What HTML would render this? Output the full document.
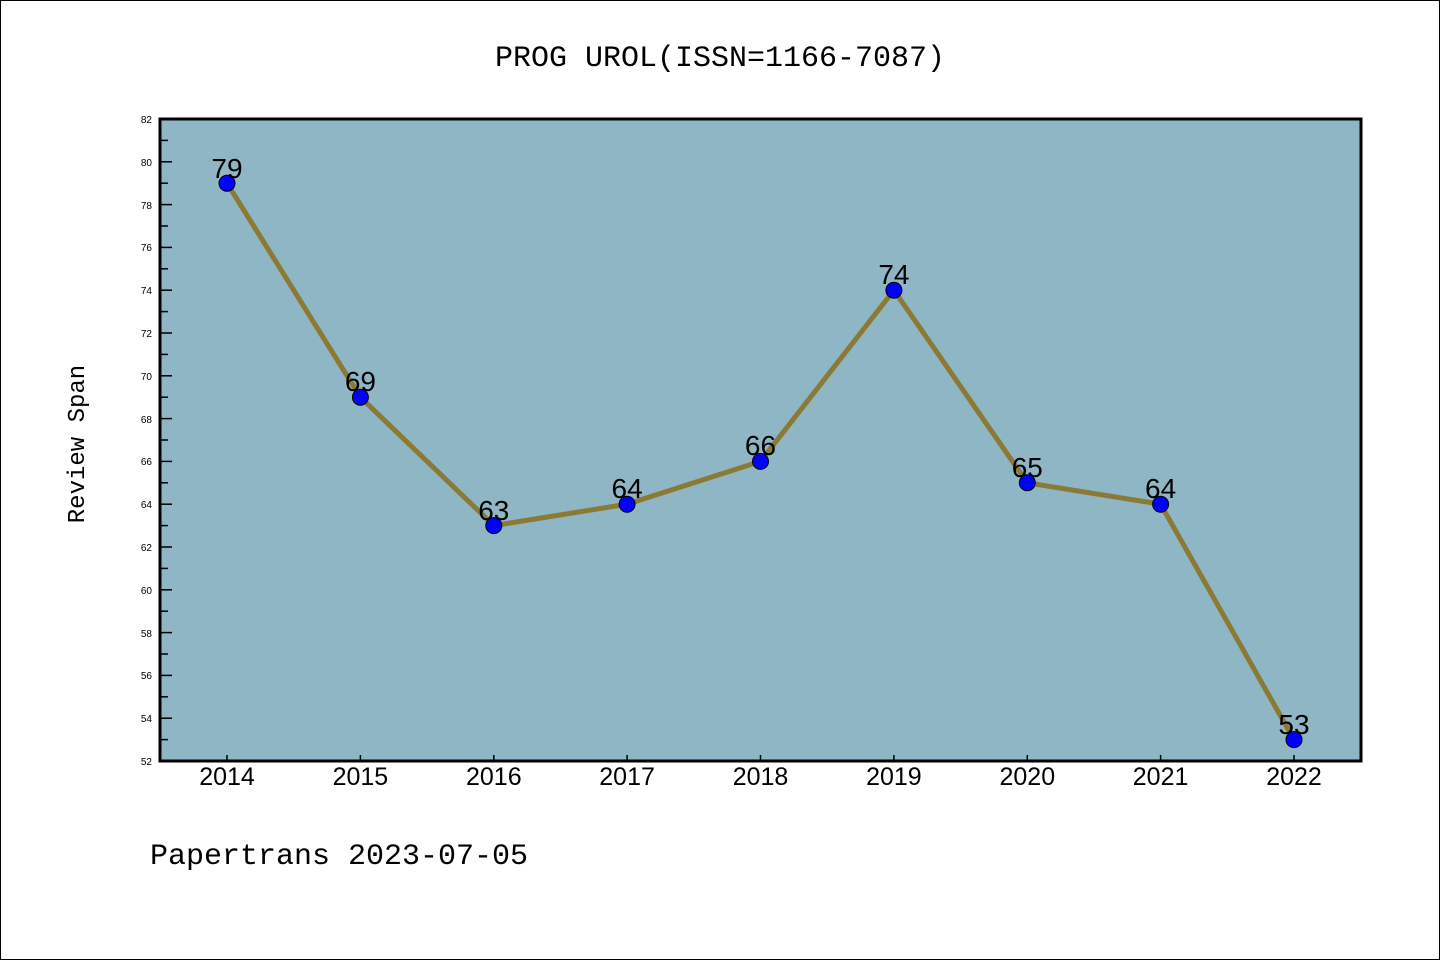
<!DOCTYPE html>
<html><head><style>body{margin:0;background:#fff}svg{display:block}</style></head><body>
<svg width="1440" height="960" xmlns="http://www.w3.org/2000/svg" font-family="'Liberation Sans','DejaVu Sans',sans-serif">
<rect x="0.5" y="0.5" width="1439" height="959" fill="#fff" stroke="#000"/>
<text x="720" y="66" font-size="30" text-anchor="middle" font-family="'Liberation Mono','DejaVu Sans Mono',monospace">PROG UROL(ISSN=1166-7087)</text>
<rect x="160" y="119" width="1201" height="642" fill="#8fb6c5"/>
<g stroke="#000" stroke-width="1.5">
<line x1="160" y1="119" x2="172" y2="119"/><line x1="160" y1="140.4" x2="168" y2="140.4"/>
<line x1="160" y1="161.8" x2="172" y2="161.8"/><line x1="160" y1="183.2" x2="168" y2="183.2"/>
<line x1="160" y1="204.6" x2="172" y2="204.6"/><line x1="160" y1="226" x2="168" y2="226"/>
<line x1="160" y1="247.4" x2="172" y2="247.4"/><line x1="160" y1="268.8" x2="168" y2="268.8"/>
<line x1="160" y1="290.2" x2="172" y2="290.2"/><line x1="160" y1="311.6" x2="168" y2="311.6"/>
<line x1="160" y1="333" x2="172" y2="333"/><line x1="160" y1="354.4" x2="168" y2="354.4"/>
<line x1="160" y1="375.8" x2="172" y2="375.8"/><line x1="160" y1="397.2" x2="168" y2="397.2"/>
<line x1="160" y1="418.6" x2="172" y2="418.6"/><line x1="160" y1="440" x2="168" y2="440"/>
<line x1="160" y1="461.4" x2="172" y2="461.4"/><line x1="160" y1="482.8" x2="168" y2="482.8"/>
<line x1="160" y1="504.2" x2="172" y2="504.2"/><line x1="160" y1="525.6" x2="168" y2="525.6"/>
<line x1="160" y1="547" x2="172" y2="547"/><line x1="160" y1="568.4" x2="168" y2="568.4"/>
<line x1="160" y1="589.8" x2="172" y2="589.8"/><line x1="160" y1="611.2" x2="168" y2="611.2"/>
<line x1="160" y1="632.6" x2="172" y2="632.6"/><line x1="160" y1="654" x2="168" y2="654"/>
<line x1="160" y1="675.4" x2="172" y2="675.4"/><line x1="160" y1="696.8" x2="168" y2="696.8"/>
<line x1="160" y1="718.2" x2="172" y2="718.2"/><line x1="160" y1="739.6" x2="168" y2="739.6"/>
<line x1="227" y1="761" x2="227" y2="755"/><line x1="360.4" y1="761" x2="360.4" y2="755"/>
<line x1="493.8" y1="761" x2="493.8" y2="755"/><line x1="627.1" y1="761" x2="627.1" y2="755"/>
<line x1="760.5" y1="761" x2="760.5" y2="755"/><line x1="893.9" y1="761" x2="893.9" y2="755"/>
<line x1="1027.3" y1="761" x2="1027.3" y2="755"/><line x1="1160.6" y1="761" x2="1160.6" y2="755"/>
<line x1="1294" y1="761" x2="1294" y2="755"/>
</g>
<rect x="160" y="119" width="1201" height="642" fill="none" stroke="#000" stroke-width="3"/>
<g font-size="10" text-anchor="end">
<text x="152" y="123">82</text><text x="152" y="166">80</text><text x="152" y="209">78</text>
<text x="152" y="251">76</text><text x="152" y="294">74</text><text x="152" y="337">72</text>
<text x="152" y="380">70</text><text x="152" y="423">68</text><text x="152" y="465">66</text>
<text x="152" y="508">64</text><text x="152" y="551">62</text><text x="152" y="594">60</text>
<text x="152" y="637">58</text><text x="152" y="679">56</text><text x="152" y="722">54</text>
<text x="152" y="765">52</text>
</g>
<g font-size="25" text-anchor="middle">
<text x="227" y="785">2014</text><text x="360.4" y="785">2015</text><text x="493.8" y="785">2016</text>
<text x="627.1" y="785">2017</text><text x="760.5" y="785">2018</text><text x="893.9" y="785">2019</text>
<text x="1027.3" y="785">2020</text><text x="1160.6" y="785">2021</text><text x="1294" y="785">2022</text>
</g>
<text transform="translate(84,444) rotate(-90)" font-size="24" text-anchor="middle" font-family="'Liberation Mono','DejaVu Sans Mono',monospace">Review Span</text>
<polyline fill="none" stroke="#8b7a35" stroke-width="5" points="227,183.2 360.4,397.2 493.8,525.6 627.1,504.2 760.5,461.4 893.9,290.2 1027.3,482.8 1160.6,504.2 1294,739.6"/>
<g fill="#0000ff" stroke="#000" stroke-width="1">
<circle cx="227" cy="183.2" r="8"/><circle cx="360.4" cy="397.2" r="8"/><circle cx="493.8" cy="525.6" r="8"/>
<circle cx="627.1" cy="504.2" r="8"/><circle cx="760.5" cy="461.4" r="8"/><circle cx="893.9" cy="290.2" r="8"/>
<circle cx="1027.3" cy="482.8" r="8"/><circle cx="1160.6" cy="504.2" r="8"/><circle cx="1294" cy="739.6" r="8"/>
</g>
<g font-size="28" text-anchor="middle">
<text x="227" y="178">79</text><text x="360.4" y="391">69</text><text x="493.8" y="520">63</text>
<text x="627.1" y="498">64</text><text x="760.5" y="455">66</text><text x="893.9" y="284">74</text>
<text x="1027.3" y="477">65</text><text x="1160.6" y="498">64</text><text x="1294" y="734">53</text>
</g>
<text x="150" y="864" font-size="30" font-family="'Liberation Mono','DejaVu Sans Mono',monospace">Papertrans 2023-07-05</text>
</svg>
</body></html>
